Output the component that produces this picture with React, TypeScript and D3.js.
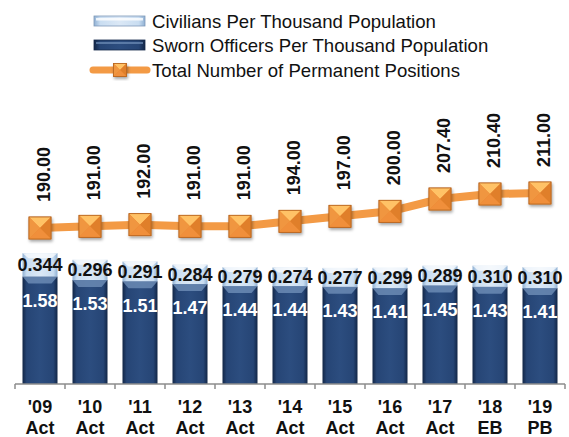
import * as d3 from "d3";
import { useEffect, useRef } from "react";

const years = ["'09", "'10", "'11", "'12", "'13", "'14", "'15", "'16", "'17", "'18", "'19"];
const kinds = ["Act", "Act", "Act", "Act", "Act", "Act", "Act", "Act", "Act", "EB", "PB"];
const sworn = [1.58, 1.53, 1.51, 1.47, 1.44, 1.44, 1.43, 1.41, 1.45, 1.43, 1.41];
const civilians = [0.344, 0.296, 0.291, 0.284, 0.279, 0.274, 0.277, 0.299, 0.289, 0.31, 0.31];
const positions = [190, 191, 192, 191, 191, 194, 197, 200, 207.4, 210.4, 211];
const legendLabels = [
  "Civilians Per Thousand Population",
  "Sworn Officers Per Thousand Population",
  "Total Number of Permanent Positions",
];

const W = 569;
const H = 437;
const FONT = "'Liberation Sans', Arial, sans-serif";

export default function App() {
  const svgRef = useRef<SVGSVGElement>(null);

  useEffect(() => {
    const svg = d3.select(svgRef.current);
    svg.selectAll("*").remove();

    const defs = svg.append("defs");
    const grad = (id: string, stops: [number, string][]) => {
      const g = defs.append("linearGradient").attr("id", id).attr("x1", 0).attr("x2", 1).attr("y1", 0).attr("y2", 0);
      stops.forEach(([o, c]) => g.append("stop").attr("offset", o).attr("stop-color", c));
    };
    grad("swornGrad", [
      [0, "#122646"],
      [0.12, "#264575"],
      [0.5, "#2c4d7f"],
      [0.88, "#264575"],
      [1, "#122646"],
    ]);
    grad("civGrad", [
      [0, "#8fb0d3"],
      [0.12, "#c9ddf1"],
      [0.5, "#dbe8f6"],
      [0.88, "#c9ddf1"],
      [1, "#8fb0d3"],
    ]);
    const shadow = defs.append("filter").attr("id", "shadow").attr("x", "-30%").attr("y", "-30%").attr("width", "160%").attr("height", "160%");
    shadow.append("feDropShadow").attr("dx", 1).attr("dy", 2).attr("stdDeviation", 1.5).attr("flood-color", "#000").attr("flood-opacity", 0.35);

    const x = d3.scaleBand<number>().domain(d3.range(years.length)).range([15, 565]).paddingInner(0.3).paddingOuter(0.15);
    const y = d3.scaleLinear().domain([0, 2.5]).range([384, 214]);
    const y2 = d3.scaleLinear().domain([190, 211]).range([228, 193]);
    const bw = x.bandwidth();
    const cx = (i: number) => (x(i) ?? 0) + bw / 2;

    // bars
    const bars = svg.append("g").selectAll("g").data(d3.range(years.length)).join("g");
    bars
      .append("rect")
      .attr("x", (i) => x(i)!)
      .attr("width", bw)
      .attr("y", (i) => y(sworn[i]))
      .attr("height", (i) => y(0) - y(sworn[i]))
      .attr("fill", "url(#swornGrad)");
    bars
      .append("rect")
      .attr("x", (i) => x(i)!)
      .attr("width", bw)
      .attr("y", (i) => y(sworn[i] + civilians[i]))
      .attr("height", (i) => y(sworn[i]) - y(sworn[i] + civilians[i]))
      .attr("fill", "url(#civGrad)");
    // bevel chevron at top of sworn
    bars
      .append("path")
      .attr("d", (i) => {
        const x0 = x(i)!;
        const t = y(sworn[i]);
        return `M${x0},${t} L${x0 + bw},${t} L${x0 + bw - 6},${t + 7} L${x0 + 6},${t + 7} Z`;
      })
      .attr("fill", "#6f8fb8")
      .attr("opacity", 0.8);
    bars
      .append("path")
      .attr("d", (i) => {
        const x0 = x(i)!;
        const t = y(sworn[i] + civilians[i]);
        return `M${x0},${t} L${x0 + bw},${t} L${x0 + bw - 6},${t + 5} L${x0 + 6},${t + 5} Z`;
      })
      .attr("fill", "#ffffff")
      .attr("opacity", 0.7);

    // bar labels
    bars
      .append("text")
      .attr("x", cx)
      .attr("y", (i) => (y(sworn[i]) + y(sworn[i] + civilians[i])) / 2)
      .attr("dy", "0.35em")
      .attr("text-anchor", "middle")
      .attr("font-family", FONT)
      .attr("font-weight", "bold")
      .attr("font-size", 18)
      .attr("fill", "#111")
      .text((i) => civilians[i].toFixed(3));
    bars
      .append("text")
      .attr("x", cx)
      .attr("y", (i) => y(sworn[i]) + 24)
      .attr("dy", "0.35em")
      .attr("text-anchor", "middle")
      .attr("font-family", FONT)
      .attr("font-weight", "bold")
      .attr("font-size", 18)
      .attr("fill", "#fff")
      .text((i) => sworn[i].toFixed(2));

    // axis
    const axis = svg.append("g").attr("stroke", "#8c8c8c").attr("stroke-width", 1.5);
    axis.append("line").attr("x1", 15).attr("x2", 565).attr("y1", 384).attr("y2", 384);
    d3.range(years.length + 1).forEach((k) => {
      const xx = 15 + k * x.step();
      axis.append("line").attr("x1", xx).attr("x2", xx).attr("y1", 384).attr("y2", 389);
    });
    const xl = svg.append("g").attr("font-family", FONT).attr("font-weight", "bold").attr("font-size", 18).attr("fill", "#111").attr("text-anchor", "middle");
    years.forEach((yr, i) => {
      xl.append("text").attr("x", cx(i)).attr("y", 413).text(yr);
      xl.append("text").attr("x", cx(i)).attr("y", 434).text(kinds[i]);
    });

    // line
    const line = d3
      .line<number>()
      .x((_, i) => cx(i))
      .y((v) => y2(v));
    svg
      .append("path")
      .datum(positions)
      .attr("d", line)
      .attr("fill", "none")
      .attr("stroke", "#f39a45")
      .attr("stroke-width", 8)
      .attr("stroke-linejoin", "round");

    const marker = (g: d3.Selection<SVGGElement, unknown, null, undefined>, mx: number, my: number, s: number) => {
      const h = s / 2;
      const m = g.append("g").attr("filter", "url(#shadow)");
      m.append("rect").attr("x", mx - h).attr("y", my - h).attr("width", s).attr("height", s).attr("fill", "#e8842e").attr("stroke", "#b96620").attr("stroke-width", 0.8);
      const tri = (pts: [number, number][], fill: string) =>
        m.append("path").attr("d", "M" + pts.map((p) => p.join(",")).join("L") + "Z").attr("fill", fill);
      tri([[mx - h, my - h], [mx + h, my - h], [mx, my]], "#ffc266");
      tri([[mx - h, my - h], [mx - h, my + h], [mx, my]], "#f0963f");
      tri([[mx + h, my - h], [mx + h, my + h], [mx, my]], "#e07f2b");
      tri([[mx - h, my + h], [mx + h, my + h], [mx, my]], "#f08f3b");
      m.append("rect").attr("x", mx - h).attr("y", my - h).attr("width", s).attr("height", s).attr("fill", "none").attr("stroke", "#b96620").attr("stroke-width", 0.8);
    };
    const mg = svg.append("g");
    positions.forEach((v, i) => marker(mg as any, cx(i), y2(v), 22));

    const pl = svg.append("g").attr("font-family", FONT).attr("font-weight", "bold").attr("font-size", 18).attr("fill", "#111");
    positions.forEach((v, i) => {
      pl.append("text")
        .attr("transform", `translate(${cx(i) + 10},${y2(v) - 26}) rotate(-90)`)
        .attr("text-anchor", "start")
        .text(v.toFixed(2));
    });

    // legend
    const lg = svg.append("g").attr("font-family", FONT).attr("font-size", 18.6).attr("fill", "#111");
    const rows = [21, 45, 70];
    lg.append("rect").attr("x", 94).attr("y", rows[0] - 5).attr("width", 51).attr("height", 10).attr("fill", "url(#civGrad)").attr("stroke", "#7f9ab8").attr("stroke-width", 0.8);
    lg.append("rect").attr("x", 96).attr("y", rows[0] - 3).attr("width", 47).attr("height", 2.5).attr("fill", "#fff").attr("opacity", 0.8);
    lg.append("rect").attr("x", 94).attr("y", rows[1] - 5).attr("width", 51).attr("height", 10).attr("fill", "url(#swornGrad)").attr("stroke", "#14284a").attr("stroke-width", 0.8);
    lg.append("rect").attr("x", 96).attr("y", rows[1] - 3).attr("width", 47).attr("height", 2).attr("fill", "#6f8fb8").attr("opacity", 0.7);
    lg.append("line").attr("x1", 93).attr("x2", 147).attr("y1", rows[2]).attr("y2", rows[2]).attr("stroke", "#f39a45").attr("stroke-width", 7).attr("stroke-linecap", "round");
    marker(lg as any, 120, rows[2], 13);
    legendLabels.forEach((t, k) => {
      lg.append("text").attr("x", 152).attr("y", rows[k]).attr("dy", "0.35em").text(t);
    });
  }, []);

  return <svg ref={svgRef} width={W} height={H} style={{ position: "absolute", left: 0, top: 0, background: "#fff" }} />;
}
